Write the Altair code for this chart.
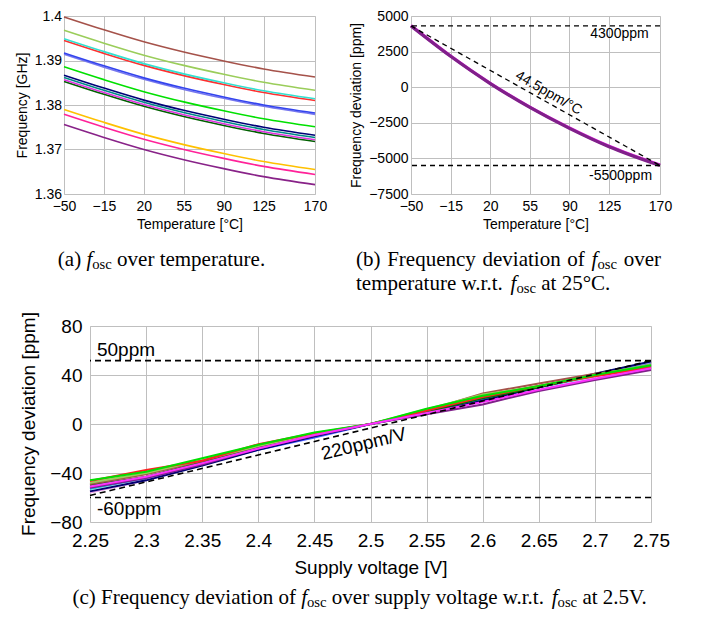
import altair as alt
import pandas as pd

# ---------------- ticks ----------------
temp_ticks = [-50, -15, 20, 55, 90, 125, 170]
freq_ticks = [1.36, 1.37, 1.38, 1.39, 1.40]
dev_ticks = [-7500, -5000, -2500, 0, 2500, 5000]
volt_ticks = [2.25, 2.3, 2.35, 2.4, 2.45, 2.5, 2.55, 2.6, 2.65, 2.7, 2.75]
ppm_ticks = [-80, -40, 0, 40, 80]

# ---------------- (a) f_osc [GHz] over temperature ----------------
a_temps = [-50, -15, 20, 55, 90, 125, 170]
fa_brown = [1.3998, 1.3969, 1.3942, 1.3919, 1.3899, 1.3881, 1.3863]
fa_yellowgreen = [1.3968, 1.3939, 1.3912, 1.3889, 1.3869, 1.3851, 1.3833]
fa_red = [1.3945, 1.3916, 1.3889, 1.3866, 1.3846, 1.3828, 1.3810]
fa_cyan = [1.3949, 1.3920, 1.3893, 1.3870, 1.3850, 1.3832, 1.3814]
fa_slate = [1.3914, 1.3885, 1.3858, 1.3835, 1.3815, 1.3797, 1.3779]
fa_blue = [1.3917, 1.3888, 1.3861, 1.3838, 1.3818, 1.3800, 1.3782]
fa_lime = [1.3886, 1.3857, 1.3830, 1.3807, 1.3787, 1.3769, 1.3751]
fa_darkgreen = [1.3853, 1.3824, 1.3797, 1.3774, 1.3754, 1.3736, 1.3718]
fa_magenta = [1.3857, 1.3828, 1.3801, 1.3778, 1.3758, 1.3740, 1.3722]
fa_teal = [1.3862, 1.3833, 1.3806, 1.3783, 1.3763, 1.3745, 1.3727]
fa_navy = [1.3867, 1.3838, 1.3811, 1.3788, 1.3768, 1.3750, 1.3732]
fa_gold = [1.3790, 1.3761, 1.3734, 1.3711, 1.3691, 1.3673, 1.3655]
fa_pink = [1.3779, 1.3750, 1.3723, 1.3700, 1.3680, 1.3662, 1.3644]
fa_purple = [1.3756, 1.3727, 1.3700, 1.3677, 1.3657, 1.3639, 1.3621]

a_series = [
    ("a01", "#a5524a", fa_brown),
    ("a02", "#9acd5a", fa_yellowgreen),
    ("a03", "#ff3030", fa_red),
    ("a04", "#33e0d0", fa_cyan),
    ("a05", "#7777ee", fa_slate),
    ("a06", "#3344ee", fa_blue),
    ("a07", "#00e000", fa_lime),
    ("a08", "#006000", fa_darkgreen),
    ("a09", "#dd33dd", fa_magenta),
    ("a10", "#008888", fa_teal),
    ("a11", "#000077", fa_navy),
    ("a12", "#ffc000", fa_gold),
    ("a13", "#ff2299", fa_pink),
    ("a14", "#882288", fa_purple),
]

# ---------------- (b) deviation [ppm] over temperature ----------------
b_temps = [-50, -15, 20, 55, 90, 125, 170]
db_magenta = [4330, 2190, 280, -1390, -2850, -4140, -5460]
db_purple = [4300, 2170, 256, -1420, -2890, -4180, -5500]
b_series = [("b1", "#e020e0", db_magenta), ("b2", "#80208a", db_purple)]
b_limits = [4300, -5500]
b_fit_x = [-50, 170]
b_fit_y = [4300, -5500]
b_lbl_x = [160, 163]
b_lbl_y = [3450, -6550]
b_lbl_t = ["4300ppm", "-5500ppm"]
b_slope_x = [71.6]
b_slope_y = [-420]
b_slope_t = ["44.5ppm/°C"]

# ---------------- (c) deviation [ppm] over supply voltage ----------------
c_volts = [2.25, 2.30, 2.35, 2.40, 2.45, 2.50, 2.55, 2.60, 2.65, 2.70, 2.75]
dc_plum = [-56, -46, -33, -20, -9, 0, 9, 18, 28, 37, 45]
dc_cyan = [-53, -44, -32, -20, -9, 0, 10, 21, 30, 39, 48]
dc_blue = [-52, -44, -33, -21, -11, 0, 9, 20, 30, 40, 49]
dc_navy = [-55, -46, -34, -21, -10, 0, 9, 19, 30, 41, 51]
dc_darkgreen = [-50, -43, -31, -19, -9, 0, 10, 21, 30, 40, 48]
dc_brown = [-49, -41, -30, -18, -8, 0, 11, 25, 33, 41, 47]
dc_yellowgreen = [-48, -40, -29.5, -18, -8, 0, 12, 24, 31, 40, 48.5]
dc_red = [-46.5, -37.5, -30, -16.5, -7.5, 0, 11, 22, 31, 39, 46]
dc_lime = [-46, -39, -28, -17, -7, 0, 12.5, 23, 31, 40, 48]
dc_purple = [-52, -44, -33, -20, -9.5, 0, 8, 16, 27, 36, 44]
dc_magenta = [-51, -43, -32, -20, -9, 0, 9, 18, 28, 37, 45.5]
c_series = [
    ("c01", "#e8a0e8", dc_plum),
    ("c02", "#20d0d0", dc_cyan),
    ("c03", "#4455ff", dc_blue),
    ("c04", "#000070", dc_navy),
    ("c05", "#007000", dc_darkgreen),
    ("c06", "#a5524a", dc_brown),
    ("c07", "#9acd5a", dc_yellowgreen),
    ("c08", "#ff2020", dc_red),
    ("c09", "#00e000", dc_lime),
    ("c10", "#80208a", dc_purple),
    ("c11", "#ff30ff", dc_magenta),
]
c_limits = [51.7, -60]
c_fit_x = [2.25, 2.75]
c_fit_y = [-58.3, 51.7]
c_lbl_x = [2.2562, 2.2562]
c_lbl_y = [55.8, -74.3]
c_lbl_t = ["50ppm", "-60ppm"]
c_slope_x = [2.494]
c_slope_y = [-16.3]
c_slope_t = ["220ppm/V"]
c_ytitle = "Frequency deviation [ppm]"

# ---------------- helpers ----------------
SANS = "Liberation Sans"
SERIF = "Liberation Serif"
GRID = "#bfbfbf"
dummy = pd.DataFrame({"d": [0]})

ALL_SERIES = a_series + b_series + c_series
COLOR = alt.Scale(domain=[s[0] for s in ALL_SERIES], range=[s[1] for s in ALL_SERIES])


def long_df(xs, series):
    rows = []
    for key, _, vals in series:
        for xv, yv in zip(xs, vals):
            rows.append({"x": xv, "y": yv, "s": key})
    return pd.DataFrame(rows)


def xaxis(title, values, fmt, fs, lp, tp):
    return alt.Axis(title=title, values=values, format=fmt, labelFontSize=fs, titleFontSize=fs,
                    ticks=False, tickSize=0, domain=False, grid=True, gridColor=GRID, gridWidth=1,
                    labelColor="black", titleColor="black", labelFont=SANS, titleFont=SANS,
                    titleFontWeight="normal", labelOverlap=False, labelFlush=False,
                    labelPadding=lp, titlePadding=tp, titleLimit=800)


def yaxis(title, values, fmt, fs, lp, ext, tp, topac=1.0):
    return alt.Axis(title=title, values=values, format=fmt, labelFontSize=fs, titleFontSize=fs,
                    ticks=False, tickSize=0, domain=False, grid=True, gridColor=GRID, gridWidth=1,
                    labelColor="black", titleColor="black", labelFont=SANS, titleFont=SANS,
                    titleFontWeight="normal", labelOverlap=False, labelFlush=False, titleOpacity=topac,
                    labelPadding=lp, minExtent=ext, maxExtent=ext, titlePadding=tp, titleLimit=800)


# Times metrics (per 1000 em) for caption layout
TW = {" ": 250, "(": 333, ")": 333, ".": 250, "a": 444, "b": 500, "c": 444, "d": 500,
      "e": 444, "f": 333, "g": 500, "i": 278, "l": 278, "m": 778, "n": 500, "o": 500,
      "p": 500, "q": 500, "r": 333, "s": 389, "t": 278, "u": 500, "v": 500, "w": 722,
      "y": 500, "F": 556, "C": 667, "V": 722, "2": 500, "5": 500, "°": 400}
CAP_F = 21.0


def tok_width(text, kind):
    size = CAP_F * 0.7 if kind == "sub" else CAP_F
    if kind == "it":
        return 0.278 * size
    return sum(TW.get(ch, 500) for ch in text) * size / 1000.0


def natural_width(tokens):
    w = 0.0
    for text, kind, sp in tokens:
        if sp:
            w += 0.25 * CAP_F
        w += tok_width(text, kind)
    return w


def caption(tokens, x_start, baseline, origin, stretch=0.0):
    layers = []
    x = x_start
    for text, kind, sp in tokens:
        if sp:
            x += 0.25 * CAP_F + stretch
        size = CAP_F * 0.7 if kind == "sub" else CAP_F
        dy = CAP_F * 0.15 if kind == "sub" else 0.0
        layers.append(
            alt.Chart(dummy).mark_text(
                text=text, font=SERIF, fontSize=size,
                fontStyle="italic" if kind == "it" else "normal",
                align="left", baseline="alphabetic", color="black",
            ).encode(x=alt.value(x - origin[0]), y=alt.value(baseline + dy - origin[1]))
        )
        x += tok_width(text, kind)
    return layers


def spacer(h):
    return alt.Chart(dummy).mark_point(opacity=0).encode(
        x=alt.value(0), y=alt.value(0)
    ).properties(width=1, height=h, view=alt.ViewBackground(strokeOpacity=0, strokeWidth=0))


cap_a = [("(a)", "rm", False), ("f", "it", True), ("osc", "sub", False), ("over", "rm", True),
         ("temperature.", "rm", True)]
cap_b1 = [("(b)", "rm", False), ("Frequency", "rm", True), ("deviation", "rm", True), ("of", "rm", True),
          ("f", "it", True), ("osc", "sub", False), ("over", "rm", True)]
cap_b2 = [("temperature", "rm", False), ("w.r.t.", "rm", True), ("f", "it", True), ("osc", "sub", False),
          ("at", "rm", True), ("25°C.", "rm", True)]
cap_c = [("(c)", "rm", False), ("Frequency", "rm", True), ("deviation", "rm", True), ("of", "rm", True),
         ("f", "it", True), ("osc", "sub", False), ("over", "rm", True), ("supply", "rm", True),
         ("voltage", "rm", True), ("w.r.t.", "rm", True), ("f", "it", True), ("osc", "sub", False),
         ("at", "rm", True), ("2.5V.", "rm", True)]

# page positions of plot origins (used only for caption placement)
A_O = (63, 15)
B_O = (413, 15)
C_O = (90, 326)
H_TOP = 178

# ---------------- panel (a) ----------------
Xa = alt.X("x:Q", scale=alt.Scale(domain=[-50, 170], nice=False, zero=False),
           axis=xaxis("Temperature [°C]", temp_ticks, "d", 14, 5.0, 4.5))
Ya = alt.Y("y:Q", scale=alt.Scale(domain=[1.36, 1.40], nice=False, zero=False),
           axis=yaxis("Frequency [GHz]", freq_ticks, "~g", 14, 2.5, 30, 5))
lines_a = alt.Chart(long_df(a_temps, a_series)).mark_line(strokeWidth=1.6, interpolate="monotone").encode(
    x=Xa, y=Ya, color=alt.Color("s:N", scale=COLOR, legend=None),
)
wa = natural_width(cap_a)
panel_a = alt.layer(lines_a, *caption(cap_a, 160.5 - wa / 2, 265, A_O)).properties(width=251, height=H_TOP)

# ---------------- panel (b) ----------------
Xb = alt.X("x:Q", scale=alt.Scale(domain=[-50, 170], nice=False, zero=False),
           axis=xaxis("Temperature [°C]", temp_ticks, "d", 14, 5.0, 4.5))
Yb = alt.Y("y:Q", scale=alt.Scale(domain=[-7500, 5000], nice=False, zero=False),
           axis=yaxis("Frequency deviation [ppm]", dev_ticks, "d", 14, 3, 42.3, 5.7))
lines_b = alt.Chart(long_df(b_temps, b_series)).mark_line(interpolate="monotone").encode(
    x=Xb, y=Yb, color=alt.Color("s:N", scale=COLOR, legend=None),
    strokeWidth=alt.StrokeWidth("s:N", scale=alt.Scale(domain=["b1", "b2"], range=[3.0, 3.2]), legend=None),
)
lim_b = alt.Chart(pd.DataFrame({"y": b_limits})).mark_rule(color="black", strokeDash=[5, 4], strokeWidth=1.3).encode(y=Yb)
fit_b = alt.Chart(pd.DataFrame({"x": b_fit_x, "y": b_fit_y})).mark_line(color="black", strokeDash=[5, 4], strokeWidth=1.3).encode(x=Xb, y=Yb)
lbl_b = alt.Chart(pd.DataFrame({"x": b_lbl_x, "y": b_lbl_y, "t": b_lbl_t})).mark_text(
    font=SANS, fontSize=14, align="right", baseline="alphabetic", color="black").encode(x=Xb, y=Yb, text="t:N")
slope_b = alt.Chart(pd.DataFrame({"x": b_slope_x, "y": b_slope_y, "t": b_slope_t})).mark_text(
    font=SANS, fontSize=14, align="center", baseline="middle", angle=30, color="black").encode(x=Xb, y=Yb, text="t:N")
w1 = natural_width(cap_b1)
stretch_b = (663 - 358 - w1) / 5.0
panel_b = alt.layer(lines_b, lim_b, fit_b, lbl_b, slope_b,
                    *caption(cap_b1, 358, 265, B_O, stretch_b),
                    *caption(cap_b2, 358, 289, B_O)).properties(width=249, height=H_TOP)

# ---------------- panel (c) ----------------
Xc = alt.X("x:Q", scale=alt.Scale(domain=[2.25, 2.75], nice=False, zero=False),
           axis=xaxis("Supply voltage [V]", volt_ticks, "~g", 19, 9, 8))
Yc = alt.Y("y:Q", scale=alt.Scale(domain=[-80, 80], nice=False, zero=False),
           axis=yaxis(c_ytitle, ppm_ticks, "d", 19, 8, 40.2, 12.8, topac=0.0))
lines_c = alt.Chart(long_df(c_volts, c_series)).mark_line(strokeWidth=2).encode(
    x=Xc, y=Yc, color=alt.Color("s:N", scale=COLOR, legend=None),
)
lim_c = alt.Chart(pd.DataFrame({"y": c_limits})).mark_rule(color="black", strokeDash=[6, 4], strokeWidth=1.6).encode(y=Yc)
fit_c = alt.Chart(pd.DataFrame({"x": c_fit_x, "y": c_fit_y})).mark_line(color="black", strokeDash=[6, 4], strokeWidth=1.6).encode(x=Xc, y=Yc)
lbl_c = alt.Chart(pd.DataFrame({"x": c_lbl_x, "y": c_lbl_y, "t": c_lbl_t})).mark_text(
    font=SANS, fontSize=19, align="left", baseline="alphabetic", color="black").encode(x=Xc, y=Yc, text="t:N")
slope_c = alt.Chart(pd.DataFrame({"x": c_slope_x, "y": c_slope_y, "t": c_slope_t})).mark_text(
    font=SANS, fontSize=19, align="center", baseline="middle", angle=346.4, color="black").encode(x=Xc, y=Yc, text="t:N")
ytitle_c = alt.Chart(dummy).mark_text(
    text=c_ytitle, font=SANS, fontSize=19, angle=270, align="center", baseline="middle", color="black"
).encode(x=alt.value(-61.5), y=alt.value(98))
wc = natural_width(cap_c)
panel_c = alt.layer(lines_c, lim_c, fit_c, lbl_c, slope_c, ytitle_c,
                    *caption(cap_c, 361 - wc / 2, 604.3, C_O)).properties(width=561, height=196)

row1_left = alt.hconcat(spacer(H_TOP), panel_a, spacing=0)
row1 = alt.hconcat(row1_left, panel_b, spacing=20)
row2 = alt.hconcat(spacer(196), panel_c, spacing=3)
chart = alt.vconcat(row1, row2, spacing=14).properties(
    padding={"left": 0, "top": 0, "right": 0, "bottom": 0}
).configure_view(stroke="black", strokeWidth=1.3).configure(font=SANS)

chart.save("out.html", embed_options={"renderer": "svg", "actions": False})
